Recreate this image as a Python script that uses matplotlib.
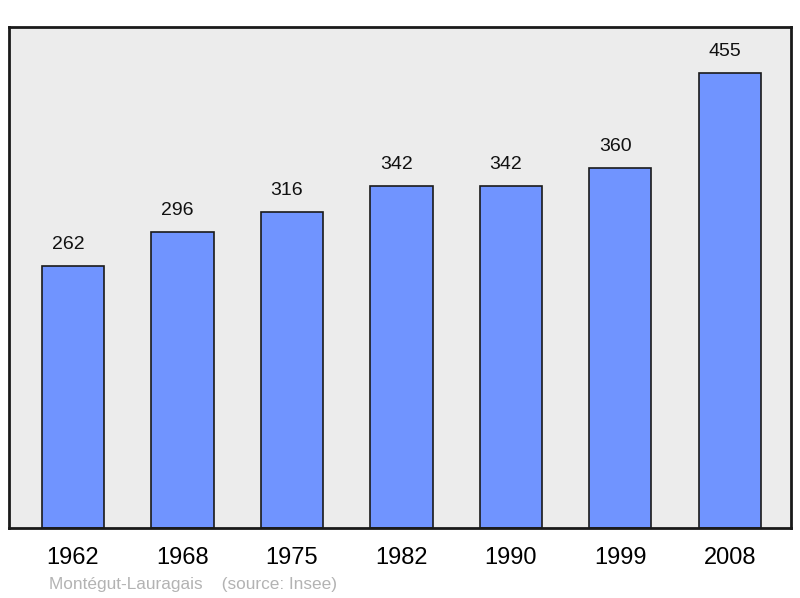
import matplotlib.pyplot as plt

years = ['1962', '1968', '1975', '1982', '1990', '1999', '2008']
population = [262, 296, 316, 342, 342, 360, 455]

plt.rcParams['font.family'] = ['Liberation Sans', 'DejaVu Sans']

fig = plt.figure(figsize=(8, 5.98), dpi=100)
ax = fig.add_axes([9 / 800, 70 / 598, 782 / 800, 501 / 598])
ax.set_facecolor('#ececec')

x = list(range(len(years)))
ax.bar(x, population, width=0.57, color='#7094ff', edgecolor='#1a1a1a', linewidth=1.2, zorder=2)

# value labels sit a little left of the bar centre, as in the original
for xi, v in zip(x, population):
    ax.annotate(str(v), (xi, v), xytext=(-5, 22), textcoords='offset pixels',
                ha='center', va='center', fontsize=14, color='#111111')

ax.set_xlim(-0.585, 6.56)
ax.set_ylim(0, 501)
ax.set_yticks([])
ax.set_xticks(x)
ax.set_xticklabels(years, fontsize=17)
ax.tick_params(axis='x', length=0, pad=14)
for s in ax.spines.values():
    s.set_linewidth(2)
    s.set_color('#1a1a1a')

fig.text(49 / 800, 1 - 584 / 598, 'Montégut-Lauragais    (source: Insee)',
         fontsize=12.4, color='#b3b3b3', va='center', ha='left')

fig.savefig('out.png', dpi=100)
